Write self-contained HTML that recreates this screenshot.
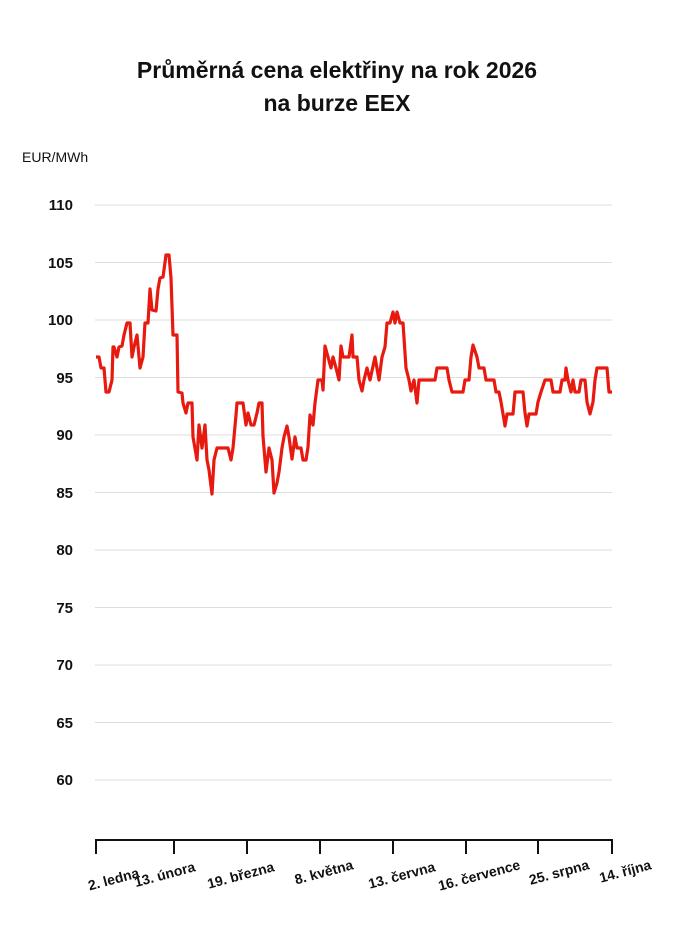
<!DOCTYPE html>
<html><head><meta charset="utf-8"><style>
body{margin:0;background:#fff;}
svg{display:block;font-family:"Liberation Sans",sans-serif;}
</style></head><body>
<svg width="675" height="927" viewBox="0 0 675 927">
<text x="337" y="78" text-anchor="middle" font-size="23" font-weight="bold" fill="#111">Průměrná cena elektřiny na rok 2026</text>
<text x="337" y="111" text-anchor="middle" font-size="23" font-weight="bold" fill="#111">na burze EEX</text>
<text x="22" y="162" font-size="14" fill="#111">EUR/MWh</text>
<g stroke="#dedede" stroke-width="1">
<line x1="95" x2="612" y1="205" y2="205"/><line x1="95" x2="612" y1="262.5" y2="262.5"/>
<line x1="95" x2="612" y1="320" y2="320"/><line x1="95" x2="612" y1="377.5" y2="377.5"/>
<line x1="95" x2="612" y1="435" y2="435"/><line x1="95" x2="612" y1="492.5" y2="492.5"/>
<line x1="95" x2="612" y1="550" y2="550"/><line x1="95" x2="612" y1="607.5" y2="607.5"/>
<line x1="95" x2="612" y1="665" y2="665"/><line x1="95" x2="612" y1="722.5" y2="722.5"/>
<line x1="95" x2="612" y1="780" y2="780"/>
</g>
<g font-size="15" font-weight="bold" fill="#111" text-anchor="end">
<text x="73" y="210">110</text><text x="73" y="268">105</text><text x="73" y="325">100</text>
<text x="73" y="383">95</text><text x="73" y="440">90</text><text x="73" y="498">85</text>
<text x="73" y="555">80</text><text x="73" y="613">75</text><text x="73" y="670">70</text>
<text x="73" y="728">65</text><text x="73" y="785">60</text>
</g>
<g stroke="#111" stroke-width="2" fill="none">
<line x1="95" x2="613" y1="840" y2="840"/>
<line x1="96" x2="96" y1="840" y2="854"/><line x1="174" x2="174" y1="840" y2="854"/>
<line x1="247" x2="247" y1="840" y2="854"/><line x1="320" x2="320" y1="840" y2="854"/>
<line x1="393" x2="393" y1="840" y2="854"/><line x1="466" x2="466" y1="840" y2="854"/>
<line x1="538" x2="538" y1="840" y2="854"/><line x1="612" x2="612" y1="840" y2="854"/>
</g>
<g font-size="14" font-weight="bold" fill="#111" text-anchor="end">
<text transform="translate(140,877) rotate(-15)">2. ledna</text>
<text transform="translate(196,871) rotate(-15)">13. února</text>
<text transform="translate(275,871) rotate(-15)">19. března</text>
<text transform="translate(354,869) rotate(-15)">8. května</text>
<text transform="translate(436,871) rotate(-15)">13. června</text>
<text transform="translate(521,869) rotate(-15)">16. července</text>
<text transform="translate(590,869) rotate(-15)">25. srpna</text>
<text transform="translate(652,869) rotate(-15)">14. října</text>
</g>
<polyline fill="none" stroke="#e8190f" stroke-width="3.2" stroke-linejoin="round" points="
96,357 99,357 101,368 104,368 106,392 109,392 112,380 113,347 114,347 117,357 119,347 122,346 124,335 127,323 130,323 132,357 134,347 137,335 140,368 143,357 145,323 148,323 150,289 152,310 156,311 158,289 160,278 163,277 166,255 169,255 171,278 173,335 177,335 178,392 182,393 183,403 186,413 188,403 192,403 193,437 197,460 199,425 202,448 205,425 207,460 209,470 212,494 214,460 217,448 228,448 231,460 233,448 236,415 237,403 243,403 246,425 248,413 251,425 254,425 257,413 259,403 262,403 263,436 266,472 269,448 272,460 274,493 277,483 279,472 282,448 284,437 287,426 289,437 292,459 295,437 297,448 301,448 303,460 306,460 308,447 310,415 313,425 315,403 318,380 322,380 323,390 325,346 328,357 331,368 333,357 336,368 339,380 341,346 343,357 349,357 352,335 353,357 357,357 359,380 362,391 364,380 367,368 370,380 375,357 379,380 382,357 385,347 387,323 390,323 393,312 395,323 397,312 400,323 403,323 406,368 409,380 411,391 414,380 417,403 419,380 435,380 437,368 447,368 449,380 452,392 463,392 465,380 469,380 471,357 473,345 477,357 479,368 484,368 486,380 494,380 496,392 499,392 501,402 505,426 507,414 513,414 515,392 523,392 525,413 527,426 529,414 536,414 538,402 541,392 545,380 551,380 553,392 560,392 562,380 565,380 566,368 568,380 571,392 573,380 575,392 579,392 581,380 585,380 587,402 590,414 593,402 595,380 597,368 607,368 609,392 612,392"/>
</svg>
</body></html>
